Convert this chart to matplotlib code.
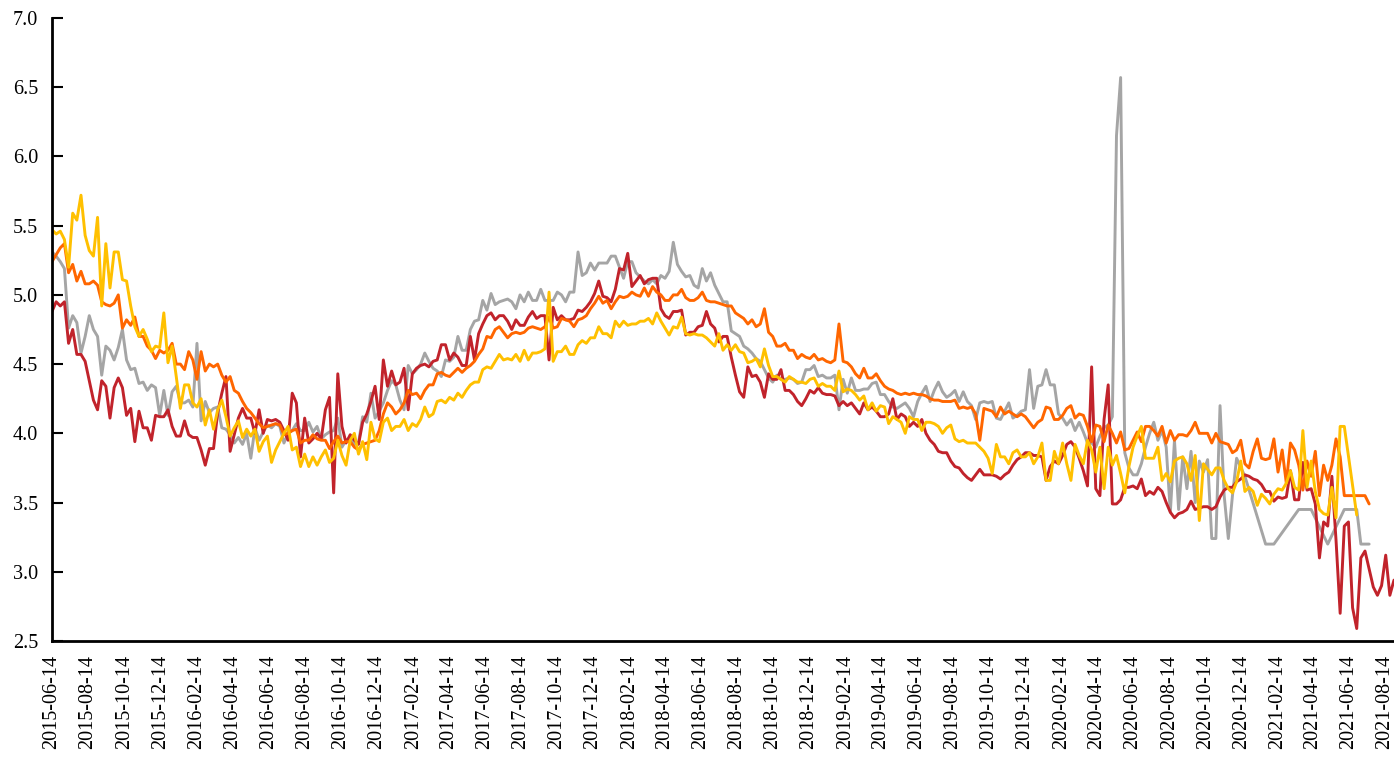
import numpy as np
import pandas as pd
import matplotlib
matplotlib.use('Agg')
from matplotlib import pyplot as plt
import matplotlib.dates as mdates

plt.rcParams['font.family'] = ['Liberation Serif', 'DejaVu Serif']

nan = np.nan

# weekly observations starting 2015-06-14
start_date = '2015-06-14'

red = [
    4.88, 4.95, 4.92, 4.95, 4.65, 4.75, 4.57, 4.57, 4.52, 4.38,
    4.24, 4.17, 4.38, 4.34, 4.11, 4.33, 4.40, 4.33, 4.13, 4.18,
    3.94, 4.16, 4.04, 4.04, 3.95, 4.13, 4.12, 4.12, 4.17, 4.05,
    3.98, 3.98, 4.09, 3.99, 3.97, 3.97, 3.88, 3.77, 3.89, 3.89,
    4.15, 4.29, 4.41, 3.87, 3.99, 4.11, 4.18, 4.11, 4.11, 4.00,
    4.17, 4.00, 4.10, 4.09, 4.10, 4.08, 4.02, 3.95, 4.29, 4.22,
    3.83, 4.11, 3.93, 3.96, 4.00, 3.96, 4.17, 4.26, 3.57, 4.43,
    4.05, 3.93, 3.99, 3.95, 3.92, 4.08, 4.14, 4.23, 4.34, 4.10,
    4.53, 4.34, 4.45, 4.35, 4.37, 4.47, 4.17, 4.43, 4.47, 4.49,
    4.50, 4.48, 4.52, 4.53, 4.64, 4.64, 4.53, 4.58, 4.55, 4.49,
    4.49, 4.70, 4.53, 4.72, 4.79, 4.85, 4.87, 4.82, 4.85, 4.85,
    4.81, 4.75, 4.82, 4.78, 4.78, 4.84, 4.88, 4.83, 4.85, 4.85,
    4.53, 4.91, 4.82, 4.85, 4.82, 4.82, 4.83, 4.89, 4.88, 4.91,
    4.95, 5.01, 5.10, 4.99, 4.98, 4.95, 5.04, 5.19, 5.18, 5.30,
    5.06, 5.10, 5.14, 5.08, 5.11, 5.12, 5.12, 4.90, 4.85, 4.83,
    4.88, 4.88, 4.89, 4.71, 4.73, 4.73, 4.77, 4.78, 4.88, 4.79,
    4.76, 4.66, 4.70, 4.70, 4.55, 4.42, 4.30, 4.26, 4.48, 4.41,
    4.42, 4.37, 4.26, 4.43, 4.39, 4.39, 4.46, 4.31, 4.31, 4.28,
    4.23, 4.20, 4.25, 4.31, 4.29, 4.33, 4.29, 4.28, 4.28, 4.27,
    4.20, 4.23, 4.20, 4.22, 4.18, 4.14, 4.22, 4.17, 4.19, 4.16,
    4.12, 4.12, 4.14, 4.25, 4.10, 4.14, 4.12, 4.05, 4.08, 4.05,
    4.10, 4.00, 3.95, 3.92, 3.87, 3.86, 3.86, 3.80, 3.76, 3.75,
    3.71, 3.68, 3.66, 3.70, 3.74, 3.70, 3.70, 3.70, 3.69, 3.67,
    3.70, 3.72, 3.77, 3.81, 3.83, 3.86, 3.86, 3.84, 3.84, 3.83,
    3.66, 3.76, 3.80, 3.78, 3.84, 3.92, 3.94, 3.90, 3.82, 3.73,
    3.62, 4.48, 3.60, 3.55, 4.10, 4.35, 3.49, 3.49, 3.52, 3.61,
    3.61, 3.62, 3.60, 3.67, 3.55, 3.58, 3.56, 3.61, 3.58, 3.50,
    3.43, 3.39, 3.42, 3.43, 3.45, 3.51, 3.45, 3.46, 3.47, 3.47,
    3.45, 3.47, 3.54, 3.59, 3.61, 3.61, 3.65, 3.67, 3.70, 3.69,
    3.67, 3.66, 3.63, 3.58, 3.58, 3.51, 3.54, 3.53, 3.54, 3.73,
    3.52, 3.52, 3.79, 3.59, 3.60, 3.49, 3.10, 3.36, 3.33, 3.69,
    3.23, 2.70, 3.33, 3.36, 2.74, 2.59, 3.10, 3.15, 3.02, 2.89,
    2.83, 2.90, 3.12, 2.83, 2.94,
]

gray = [
    5.31, 5.28, 5.24, 5.19, 4.76, 4.85, 4.80, 4.58, 4.70, 4.85,
    4.75, 4.70, 4.42, 4.63, 4.60, 4.53, 4.62, 4.75, 4.53, 4.46,
    4.47, 4.36, 4.37, 4.31, 4.35, 4.33, 4.13, 4.31, 4.13, 4.30,
    4.34, 4.22, 4.22, 4.24, 4.19, 4.65, 4.09, 4.23, 4.15, 4.18,
    4.19, 4.04, 4.03, 3.99, 3.93, 3.97, 3.92, 4.00, 3.82, 4.04,
    3.95, 4.01, 4.06, 4.04, 4.07, 4.05, 3.93, 4.00, 4.02, 4.07,
    4.02, 4.02, 4.08, 4.01, 4.05, 3.96, 3.99, 4.01, 4.02, 4.11,
    3.90, 3.95, 3.97, 3.92, 3.93, 4.12, 4.08, 4.29, 4.11, 4.16,
    4.22, 4.31, 4.38, 4.35, 4.24, 4.17, 4.49, 4.43, 4.46, 4.50,
    4.58, 4.52, 4.47, 4.45, 4.41, 4.53, 4.52, 4.55, 4.70, 4.60,
    4.60, 4.75, 4.81, 4.82, 4.96, 4.89, 5.01, 4.93, 4.95, 4.96,
    4.97, 4.95, 4.90, 5.00, 4.95, 5.02, 4.96, 4.96, 5.04, 4.96,
    4.96, 4.96, 5.02, 5.00, 4.95, 5.02, 5.02, 5.31, 5.14, 5.16,
    5.23, 5.18, 5.23, 5.23, 5.23, 5.28, 5.28, 5.20, 5.12, 5.24,
    5.24, 5.16, 5.13, 5.10, 5.08, 5.11, 5.08, 5.14, 5.12, 5.17,
    5.38, 5.22, 5.17, 5.13, 5.14, 5.07, 5.05, 5.19, 5.10, 5.16,
    5.07, 5.01, 4.95, 4.95, 4.74, 4.72, 4.70, 4.63, 4.61, 4.58,
    4.54, 4.52, 4.46, 4.40, 4.37, 4.42, 4.39, 4.39, 4.40, 4.39,
    4.36, 4.37, 4.46, 4.46, 4.49, 4.41, 4.42, 4.40, 4.40, 4.42,
    4.17, 4.39, 4.29, 4.40, 4.31, 4.31, 4.32, 4.32, 4.36, 4.37,
    4.28, 4.28, 4.23, 4.19, 4.18, 4.20, 4.22, 4.18, 4.12, 4.23,
    4.29, 4.34, 4.23, 4.31, 4.37, 4.30, 4.26, 4.28, 4.31, 4.23,
    4.30, 4.23, 4.20, 4.10, 4.22, 4.23, 4.22, 4.23, 4.11, 4.10,
    4.16, 4.22, 4.11, 4.13, 4.16, 4.17, 4.46, 4.18, 4.34, 4.35,
    4.46, 4.35, 4.35, 4.14, 4.11, 4.06, 4.10, 4.02, 4.08, 4.01,
    3.93, 3.93, 3.90, 3.98, 4.04, 4.06, 4.12, 6.15, 6.57, 3.86,
    3.75, 3.70, 3.70, 3.78, 3.90, 4.00, 4.08, 3.95, 4.02, 3.90,
    3.43, 3.95, 3.45, 3.83, 3.60, 3.87, 3.50, 3.80, 3.72, 3.81,
    3.24, 3.24, 4.20, 3.55, 3.24, 3.55, 3.82, nan, 3.69, nan,
    nan, nan, nan, 3.20, nan, 3.20, nan, nan, nan, nan,
    nan, 3.45, nan, nan, 3.45, nan, nan, nan, 3.20, nan,
    nan, nan, 3.45, nan, nan, 3.45, 3.20, nan, 3.20,
]

orange = [
    5.24, 5.29, 5.34, 5.37, 5.16, 5.22, 5.10, 5.17, 5.08, 5.08,
    5.10, 5.07, 4.95, 4.93, 4.92, 4.94, 5.00, 4.76, 4.82, 4.78,
    4.84, 4.70, 4.70, 4.63, 4.60, 4.54, 4.60, 4.58, 4.60, 4.65,
    4.50, 4.50, 4.46, 4.59, 4.53, 4.39, 4.59, 4.45, 4.50, 4.48,
    4.50, 4.42, 4.37, 4.41, 4.31, 4.29, 4.23, 4.18, 4.15, 4.11,
    4.07, 4.04, 4.05, 4.06, 4.07, 4.06, 3.99, 4.00, 4.02, 4.03,
    3.93, 3.95, 3.95, 3.99, 3.96, 3.95, 3.95, 3.89, 3.94, 3.98,
    3.93, 3.94, 3.94, 3.90, 3.88, 3.92, 3.93, 3.94, 3.95, 4.02,
    4.14, 4.22, 4.19, 4.14, 4.17, 4.22, 4.31, 4.28, 4.29, 4.25,
    4.31, 4.35, 4.35, 4.43, 4.44, 4.42, 4.41, 4.44, 4.47, 4.44,
    4.47, 4.49, 4.52, 4.57, 4.61, 4.70, 4.69, 4.75, 4.77, 4.73,
    4.69, 4.72, 4.73, 4.72, 4.73, 4.76, 4.77, 4.76, 4.75, 4.77,
    4.84, 4.76, 4.77, 4.83, 4.82, 4.81, 4.77, 4.82, 4.83, 4.85,
    4.90, 4.94, 4.99, 4.94, 4.96, 4.90, 4.95, 4.99, 4.98, 4.99,
    5.02, 5.00, 4.99, 5.05, 4.99, 5.06, 5.02, 5.00, 4.96, 4.96,
    5.00, 5.00, 5.04, 4.98, 4.96, 4.96, 4.98, 5.02, 4.96, 4.95,
    4.95, 4.94, 4.93, 4.92, 4.92, 4.87, 4.85, 4.83, 4.79, 4.82,
    4.77, 4.79, 4.90, 4.73, 4.70, 4.63, 4.63, 4.65, 4.60, 4.60,
    4.54, 4.57, 4.55, 4.54, 4.57, 4.53, 4.54, 4.52, 4.51, 4.53,
    4.79, 4.52, 4.51, 4.48, 4.43, 4.40, 4.47, 4.40, 4.40, 4.43,
    4.38, 4.34, 4.32, 4.31, 4.29, 4.28, 4.29, 4.28, 4.29, 4.28,
    4.28, 4.27, 4.25, 4.24, 4.24, 4.23, 4.23, 4.23, 4.24, 4.18,
    4.19, 4.18, 4.19, 4.14, 3.95, 4.18, 4.17, 4.16, 4.12, 4.19,
    4.14, 4.16, 4.14, 4.12, 4.14, 4.12, 4.08, 4.04, 4.08, 4.10,
    4.19, 4.18, 4.10, 4.10, 4.13, 4.18, 4.20, 4.11, 4.14, 4.13,
    4.05, 3.94, 4.06, 4.05, 3.94, 4.06, 4.00, 3.93, 4.01, 3.88,
    3.89, 3.95, 4.01, 3.94, 4.05, 4.05, 4.02, 3.98, 4.05, 3.93,
    4.02, 3.95, 3.99, 3.99, 3.98, 4.02, 4.08, 4.00, 4.00, 4.00,
    3.93, 4.00, 3.94, 3.93, 3.92, 3.86, 3.88, 3.95, 3.78, 3.75,
    3.87, 3.96, 3.82, 3.81, 3.82, 3.96, 3.72, 3.88, 3.64, 3.93,
    3.88, 3.77, 3.59, 3.80, 3.69, 3.87, 3.55, 3.77, 3.66, 3.77,
    3.96, 3.83, 3.55, 3.55, 3.55, 3.55, 3.55, 3.55, 3.49,
]

yellow = [
    5.47, 5.44, 5.46, 5.40, 5.20, 5.59, 5.54, 5.72, 5.43, 5.32,
    5.28, 5.56, 4.92, 5.37, 5.05, 5.31, 5.31, 5.11, 5.10, 4.92,
    4.77, 4.70, 4.75, 4.68, 4.59, 4.63, 4.62, 4.87, 4.51, 4.63,
    4.41, 4.18, 4.35, 4.35, 4.22, 4.19, 4.25, 4.06, 4.17, 4.03,
    4.17, 4.24, 4.12, 3.98, 4.04, 4.09, 3.97, 4.03, 3.98, 4.03,
    3.87, 3.94, 3.98, 3.79, 3.88, 3.94, 4.00, 4.05, 3.88, 3.90,
    3.76, 3.85, 3.76, 3.83, 3.77, 3.83, 3.88, 3.79, 3.82, 3.95,
    3.84, 3.77, 3.95, 4.00, 3.85, 3.94, 3.81, 4.08, 3.96, 3.94,
    4.08, 4.11, 4.02, 4.05, 4.05, 4.10, 4.02, 4.07, 4.05, 4.10,
    4.19, 4.12, 4.14, 4.23, 4.24, 4.22, 4.26, 4.24, 4.29, 4.26,
    4.31, 4.35, 4.37, 4.37, 4.46, 4.48, 4.47, 4.52, 4.57, 4.53,
    4.54, 4.53, 4.57, 4.52, 4.60, 4.53, 4.58, 4.58, 4.59, 4.61,
    5.02, 4.52, 4.59, 4.59, 4.63, 4.57, 4.57, 4.64, 4.67, 4.65,
    4.69, 4.69, 4.77, 4.72, 4.72, 4.69, 4.81, 4.77, 4.81, 4.78,
    4.79, 4.79, 4.81, 4.81, 4.83, 4.79, 4.87, 4.81, 4.76, 4.71,
    4.77, 4.76, 4.84, 4.72, 4.71, 4.72, 4.71, 4.71, 4.69, 4.66,
    4.63, 4.72, 4.60, 4.64, 4.60, 4.64, 4.59, 4.58, 4.51, 4.52,
    4.54, 4.48, 4.61, 4.49, 4.41, 4.41, 4.39, 4.37, 4.41, 4.39,
    4.37, 4.37, 4.36, 4.39, 4.40, 4.34, 4.36, 4.34, 4.34, 4.31,
    4.45, 4.30, 4.32, 4.31, 4.28, 4.24, 4.27, 4.17, 4.22, 4.16,
    4.20, 4.19, 4.07, 4.12, 4.10, 4.08, 4.00, 4.12, 4.10, 4.10,
    4.02, 4.08, 4.08, 4.07, 4.05, 4.00, 4.04, 4.06, 3.96, 3.94,
    3.95, 3.93, 3.93, 3.93, 3.90, 3.87, 3.82, 3.71, 3.92, 3.83,
    3.83, 3.78, 3.86, 3.88, 3.83, 3.83, 3.86, 3.78, 3.83, 3.93,
    3.66, 3.66, 3.87, 3.78, 3.93, 3.78, 3.66, 3.92, 3.84, 3.78,
    3.95, 3.88, 3.72, 3.90, 3.60, 3.90, 3.77, 3.84, 3.71, 3.57,
    3.76, 3.90, 3.98, 4.05, 3.82, 3.82, 3.82, 3.90, 3.66, 3.71,
    3.65, 3.80, 3.82, 3.83, 3.78, 3.66, 3.84, 3.37, 3.78, 3.74,
    3.70, 3.75, 3.75, 3.66, 3.60, 3.57, 3.65, 3.80, 3.58, 3.61,
    3.58, 3.48, 3.56, 3.53, 3.49, 3.56, 3.60, 3.59, 3.64, 3.73,
    3.61, 3.59, 4.02, 3.61, 3.80, 3.58, 3.45, 3.42, 3.41, 3.61,
    3.39, 4.05, 4.05, nan, nan, 3.41,
]

series = [
    (gray, '#A5A5A5'),
    (red, '#C1232B'),
    (orange, '#FF6600'),
    (yellow, '#FFC000'),
]

# labels on the 14th of every second month
tick_dates = pd.date_range('2015-06-01', '2021-08-01', freq='2MS') + pd.Timedelta(days=13)

fig = plt.figure(figsize=(13.94, 7.57), dpi=100)
ax = fig.add_axes([52 / 1394, 1 - 641 / 757, 1 - 52 / 1394, (641 - 18) / 757])

for vals, color in series:
    v = np.array(vals, dtype=float)
    dates = pd.date_range(start_date, periods=len(v), freq='7D')
    ok = ~np.isnan(v)
    ax.plot(dates[ok], v[ok], color=color, lw=2.1,
            solid_joinstyle='round', solid_capstyle='round')

ax.set_ylim(2.5, 7.0)
ax.set_yticks(np.arange(2.5, 7.01, 0.5))
ax.yaxis.set_major_formatter(matplotlib.ticker.FormatStrFormatter('%.1f'))
end_date = pd.Timestamp(start_date) + pd.Timedelta(days=7 * (len(red) - 1))
ax.set_xlim(pd.Timestamp(start_date), end_date)
ax.set_xticks(tick_dates)
ax.xaxis.set_major_formatter(mdates.DateFormatter('%Y-%m-%d'))
plt.setp(ax.get_xticklabels(), rotation=90, ha='center', va='top')

ax.tick_params(axis='y', direction='in', length=8, width=1.5, labelsize=14.5, pad=10)
ax.tick_params(axis='x', length=0, labelsize=14.5, pad=10)

for side in ['top', 'right']:
    ax.spines[side].set_visible(False)
for side in ['left', 'bottom']:
    ax.spines[side].set_linewidth(2)
    ax.spines[side].set_color('black')

fig.savefig('out.png', dpi=100)
plt.close(fig)
